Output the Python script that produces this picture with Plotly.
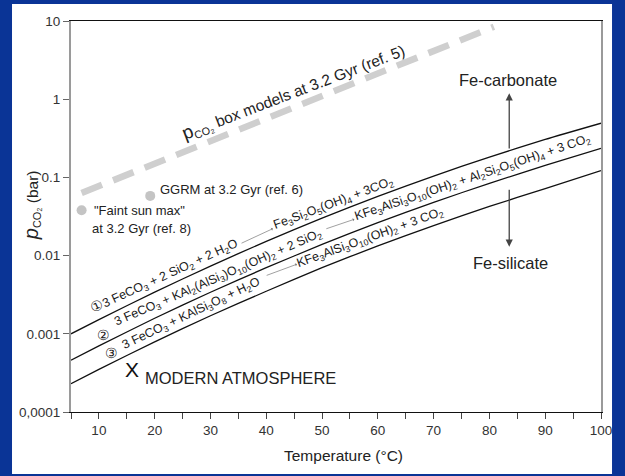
import plotly.graph_objects as go
import math

# ---------------- data ----------------
temps = [5, 10, 20, 30, 40, 50, 60, 70, 80, 90, 100]
rxn1_p = [0.00100, 0.00152, 0.00341, 0.00735, 0.0152, 0.0301, 0.0571, 0.104, 0.182, 0.306, 0.493]
rxn2_p = [0.00046, 0.00070, 0.00158, 0.0034, 0.0070, 0.0139, 0.0264, 0.048, 0.084, 0.142, 0.235]
rxn3_p = [0.00023, 0.00035, 0.00079, 0.0017, 0.0035, 0.0070, 0.0133, 0.0242, 0.0425, 0.072, 0.122]

box_T = [6.9, 80.8]
box_p = [0.063, 8.45]

point_T = [6.9, 19.2]
point_p = [0.038, 0.058]

modern_T = 16.0
modern_p = 3.45e-4

x_tickvals = [5, 10, 15, 20, 25, 30, 35, 40, 45, 50, 55, 60, 65, 70, 75, 80, 85, 90, 95, 100]
x_ticktext = ["", "10", "", "20", "", "30", "", "40", "", "50", "", "60", "", "70", "", "80", "", "90", "", "100"]
y_tickvals = [1e-4, 1e-3, 1e-2, 1e-1, 1, 10]
y_ticktext = ["0,0001", "0.001", "0.01", "0.1", "1", "10"]

P = "\u00a0+\u00a0"
r1a = "<span style=\"font-size:14px\">\u2460</span>3 FeCO<sub>3</sub>" + P + "2 SiO<sub>2</sub>" + P + "2 H<sub>2</sub>O"
r1b = "Fe<sub>3</sub>Si<sub>2</sub>O<sub>5</sub>(OH)<sub>4</sub>" + P + "3CO<sub>2</sub>"
r2a = "3 FeCO<sub>3</sub>" + P + "KAl<sub>2</sub>(AlSi<sub>3</sub>)O<sub>10</sub>(OH)<sub>2</sub>" + P + "2 SiO<sub>2</sub>"
r2b = ("KFe<sub>3</sub>AlSi<sub>3</sub>O<sub>10</sub>(OH)<sub>2</sub>" + P +
       "Al<sub>2</sub>Si<sub>2</sub>O<sub>5</sub>(OH)<sub>4</sub>" + P + "3 CO<sub>2</sub>")
r3a = "3 FeCO<sub>3</sub>" + P + "KAlSi<sub>3</sub>O<sub>8</sub>" + P + "H<sub>2</sub>O"
r3b = "KFe<sub>3</sub>AlSi<sub>3</sub>O<sub>10</sub>(OH)<sub>2</sub>" + P + "3 CO<sub>2</sub>"

FONT = "Liberation Sans, Arial, Helvetica, sans-serif"
BLUE = "#0a3496"
L = math.log10

fig = go.Figure()

fig.add_trace(go.Scatter(x=box_T, y=box_p, mode="lines",
                         line=dict(color="#cfcfcf", width=6.5, dash="22px,12px"),
                         hoverinfo="skip", showlegend=False))
for ser in (rxn1_p, rxn2_p, rxn3_p):
    fig.add_trace(go.Scatter(x=temps, y=ser, mode="lines",
                             line=dict(color="#111111", width=1.3, shape="spline", smoothing=0.6),
                             hoverinfo="skip", showlegend=False))
fig.add_trace(go.Scatter(x=point_T, y=point_p, mode="markers",
                         marker=dict(color="#c4c4c4", size=10, line=dict(width=0)),
                         hoverinfo="skip", showlegend=False))

ann = []
def txt(x, ly, text, size=12.5, angle=0, xanchor="center", color="#1a1a1a"):
    ann.append(dict(x=x, y=ly, xref="x", yref="y", text=text, showarrow=False,
                    textangle=angle, xanchor=xanchor, yanchor="middle",
                    font=dict(family=FONT, size=size, color=color)))

def arrow(x0, ly0, x1, ly1, color, width, head, size=1.0):
    ann.append(dict(x=x1, y=ly1, ax=x0, ay=ly0, xref="x", yref="y", axref="x", ayref="y",
                    text="", showarrow=True, arrowhead=head, arrowsize=size,
                    arrowwidth=width, arrowcolor=color, standoff=0, startstandoff=0))

# reaction labels
txt(21.67, -2.266, r1a, angle=-24.7)
txt(52.0, -1.335, r1b, angle=-20.6)
txt(10.8, -3.015, "\u2461", size=14)
txt(31.5, -2.289, r2a, angle=-23.5)
txt(77.05, -1.008, r2b, angle=-18.5)
txt(12.3, -3.25, "\u2462", size=14)
txt(26.6, -2.75, r3a, angle=-25.5)
txt(58.7, -1.78, r3b, angle=-19.8)

arrow(35.3, -1.85, 41.2, -1.655, "#777777", 0.7, 1, 0.8)
arrow(50.5, -1.663, 55.8, -1.535, "#777777", 0.7, 1, 0.8)
arrow(39.8, -2.26, 45.5, -2.11, "#777777", 0.7, 1, 0.8)

# box model label
txt(44.8, 0.092,
    '<span style="font-size:19px">p</span><sub>CO\u2082</sub> box models at 3.2 Gyr (ref. 5)',
    size=15.5, angle=-21, color="#222222")

# point labels
txt(20.65, -1.161, "GGRM at 3.2 Gyr (ref. 6)", size=13, xanchor="left", color="#222222")
txt(8.71, -1.417, "\"Faint sun max\"", size=13, xanchor="left", color="#222222")
txt(8.45, -1.647, "at 3.2 Gyr (ref. 8)", size=13, xanchor="left", color="#222222")

# modern atmosphere
txt(modern_T, L(modern_p), "X", size=21, color="#111111")
txt(17.96, -3.565, "MODERN ATMOSPHERE", size=16.5, xanchor="left", color="#222222")

# Fe-carbonate / Fe-silicate
txt(83.24, 0.2455, "Fe-carbonate", size=16.5, color="#222222")
txt(83.69, -2.091, "Fe-silicate", size=16.5, color="#222222")
arrow(83.55, -0.65, 83.55, 0.075, "#444444", 1.3, 2, 1.1)
arrow(83.55, -1.139, 83.55, -1.886, "#444444", 1.3, 2, 1.1)

# axis titles (paper coords)
ann.append(dict(x=-0.0755, y=0.529, xref="paper", yref="paper", textangle=-90,
                text='<span style="font-size:20px"><i>p</i></span><sub>CO\u2082</sub> (bar)',
                showarrow=False, xanchor="center", yanchor="middle",
                font=dict(family=FONT, size=15.5, color="#222222")))
ann.append(dict(x=0.514, y=-0.11, xref="paper", yref="paper",
                text="Temperature (\u00b0C)", showarrow=False, xanchor="center", yanchor="middle",
                font=dict(family=FONT, size=15.5, color="#222222")))

fig.update_layout(
    width=625, height=476,
    margin=dict(l=71, r=24, t=21, b=64),
    paper_bgcolor=BLUE, plot_bgcolor="white",
    annotations=ann,
    shapes=[dict(type="rect", xref="paper", yref="paper",
                 x0=-0.1113, x1=1.0208, y0=-0.1586, y1=1.0435,
                 fillcolor="white", line=dict(width=0), layer="below")],
    xaxis=dict(range=[5, 100], tickvals=x_tickvals, ticktext=x_ticktext,
               ticks="outside", ticklen=6, tickwidth=1, tickcolor="#444444",
               showline=True, linecolor="#111111", linewidth=1.2, mirror=True,
               showgrid=False, zeroline=False,
               tickfont=dict(family=FONT, size=13.5, color="#333333")),
    yaxis=dict(type="log", range=[-4, 1], tickvals=y_tickvals, ticktext=y_ticktext,
               ticks="outside", ticklen=6, tickwidth=1, tickcolor="#666666",
               showline=True, linecolor="#9a9a9a", linewidth=2, mirror=True,
               showgrid=False, zeroline=False,
               tickfont=dict(family=FONT, size=13.5, color="#333333")),
    font=dict(family=FONT),
)

fig.write_html("out.html")
